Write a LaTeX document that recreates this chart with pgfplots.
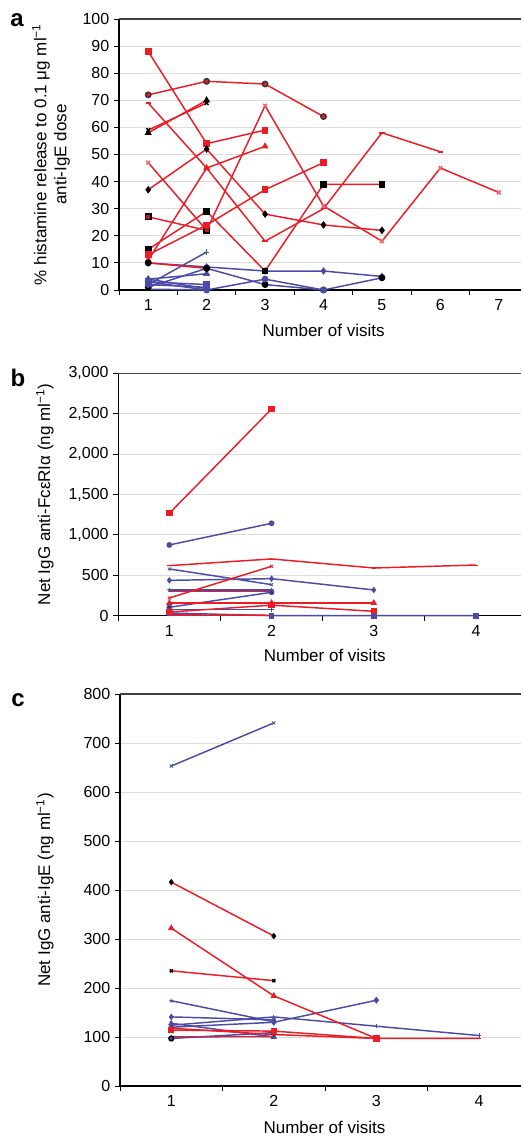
\documentclass[border=0pt]{standalone}
\usepackage{pgfplots}
\pgfplotsset{compat=1.18}
\usepackage{fontspec}
\setmainfont{Liberation Sans}
\definecolor{cred}{HTML}{EC1C24}
\definecolor{cblue}{HTML}{4B4BA6}
\definecolor{cgrid}{HTML}{DCDCDC}
\pgfplotsset{
  myaxis/.style={
    scale only axis, clip=false,
    axis x line*=bottom, axis y line*=left,
    axis line style={black, line width=0.9pt, -},
    tick align=outside,
    major tick length=3.75pt, minor tick length=3.75pt,
    tick style={black, line width=0.7pt},
    major x tick style={draw=none},
    ymajorgrids, major grid style={cgrid, line width=0.6pt},
    tick label style={font=\fontsize{12}{14}\selectfont},
    label style={font=\fontsize{12.75}{15}\selectfont},
    /pgf/number format/assume math mode=true,
    ylabel style={rotate=0, anchor=center, align=center},
    xlabel style={anchor=center},
  },
  rl/.style={cred, line width=1.1pt, mark size=2pt, mark options={solid, line width=0.6pt}},
  bl/.style={cblue, line width=1.1pt, mark size=2pt, mark options={solid, line width=0.6pt}},
}
\begin{document}
\begin{tikzpicture}
\path[use as bounding box] (0,0) rectangle (391.5pt,854.25pt);
\node[font=\fontsize{18}{18}\bfseries\selectfont] at (12.75pt,839.25pt) {a};
\node[font=\fontsize{18}{18}\bfseries\selectfont] at (13.5pt,570.75pt) {b};
\node[font=\fontsize{18}{18}\bfseries\selectfont] at (13.5pt,329.25pt) {c};
% ---------------- panel a
\begin{axis}[myaxis, at={(89.25pt,636.75pt)}, anchor=south west,
  width=301.5pt, height=203.25pt,
  xmin=0.5, xmax=7.38, ymin=0, ymax=100,
  ytick={0,10,...,100}, xtick={1,...,7}, minor xtick={0.5,1.5,...,6.5},
  xlabel={Number of visits},
  xlabel style={at={(axis description cs:0.509,-0.151)}},
  ylabel={\% histamine release to 0.1 μg ml\textsuperscript{−1}\\anti-IgE dose},
  ylabel style={at={(axis description cs:-0.169,0.5)}},
]
\draw[black!75, line width=1pt] (rel axis cs:0,1) -- (rel axis cs:1,1);
% blue
\addplot[bl, mark=diamond*, mark options={fill=cblue}] coordinates {(1,10)(2,8.5)(3,7)(4,7)(5,5)};
\addplot[bl, mark=+] coordinates {(1,2)(2,14)};
\addplot[bl, mark=triangle*, mark options={fill=cblue}] coordinates {(1,4)(2,6)};
\addplot[bl, mark=*, mark options={fill=black, draw=black}] coordinates {(1,1)(2,8)(3,2)(4,0)(5,4.5)};
\addplot[bl, mark=*, mark options={fill=cblue}] coordinates {(1,3)(2,0)(3,4)(4,0)};
\addplot[bl, mark=square*, mark options={fill=cblue}] coordinates {(1,3)(2,2)};
\addplot[bl, mark=*, mark options={fill=cblue}] coordinates {(1,2)(2,1)};
\addplot[bl, mark=none] coordinates {(1,0.3)(2,0)};
\addplot[bl, mark=diamond*, mark options={fill=cblue}] coordinates {(1,4)(2,0.5)};
% red
\addplot[rl, mark=*, mark options={fill=cred, draw=black!80}] coordinates {(1,72)(2,77)(3,76)(4,64)};
\addplot[rl, mark=square*, mark options={fill=cred}] coordinates {(1,88)(2,54)(3,59)};
\addplot[rl, mark=triangle*, mark options={fill=black, draw=black}] coordinates {(1,58)(2,70)};
\addplot[rl, mark=x, mark options={draw=black}] coordinates {(1,59)(2,69)};
\addplot[rl, mark=-, mark options={draw=cred}] coordinates {(1,69)(2,45)(3,18)(4,30)(5,58)(6,51)};
\addplot[rl, mark=x, mark options={draw=cred!70}] coordinates {(1,47)(2,22)(3,68)(4,31)(5,18)(6,45)(7,36)};
\addplot[rl, mark=diamond*, mark options={fill=black, draw=black}] coordinates {(1,37)(2,52)(3,28)(4,24)(5,22)};
\addplot[rl, mark=square*, mark options={fill=cred!80!black, draw=black}] coordinates {(1,27)(2,22)};
\addplot[rl, mark=square*, mark options={fill=black, draw=black}] coordinates {(1,15)(2,29)(3,7)(4,39)(5,39)};
\addplot[rl, mark=square*, mark options={fill=cred}] coordinates {(1,13)(2,24)(3,37)(4,47)};
\addplot[rl, mark=triangle*, mark options={fill=cred}] coordinates {(1,11)(2,45)(3,53)};
\addplot[rl, mark=*, mark options={fill=black, draw=black}] coordinates {(1,10)(2,8)};
\end{axis}
% ---------------- panel b
\begin{axis}[myaxis, at={(88.7pt,392.5pt)}, anchor=south west,
  width=302pt, height=181.8pt,
  xmin=0.5, xmax=4.44, ymin=0, ymax=3000,
  ytick={0,500,...,3000}, xtick={1,...,4}, minor xtick={0.5,1.5,2.5,3.5},
  yticklabel style={/pgf/number format/.cd, fixed, 1000 sep={,}},
  xlabel={Number of visits},
  xlabel style={at={(axis description cs:0.513,-0.165)}},
  ylabel={Net IgG anti-FcεRIα (ng ml\textsuperscript{−1})},
  ylabel style={at={(axis description cs:-0.182,0.5)}},
]
\draw[black!75, line width=1pt] (rel axis cs:0,1) -- (rel axis cs:1,1);
\addplot[bl, mark=*, mark size=1.6pt, mark options={fill=cblue}] coordinates {(1,875)(2,1143)};
\addplot[bl, mark=x, mark size=1.6pt] coordinates {(1,578)(2,384)};
\addplot[bl, mark=diamond*, mark size=1.6pt, mark options={fill=cblue}] coordinates {(1,437)(2,458)(3,318)};
\addplot[bl, mark=star, mark size=1.6pt] coordinates {(1,318)(2,318)};
\addplot[bl, mark=*, mark size=1.6pt, mark options={fill=cblue!60!black}] coordinates {(1,104)(2,289)};
\addplot[bl, mark=+, mark size=1.6pt] coordinates {(1,74)(2,74)};
\addplot[bl, mark=square*, mark size=1.6pt, mark options={fill=cblue}] coordinates {(1,33)(2,0)(3,0)(4,0)};
\addplot[bl, mark=none] coordinates {(1,0)(2,0)};
\addplot[rl, mark=square*, mark size=1.8pt, mark options={fill=cred}] coordinates {(1,1267)(2,2558)};
\addplot[rl, mark=-, mark size=1.6pt] coordinates {(1,619)(2,702)(3,590)(4,627)};
\addplot[rl, mark=x, mark size=1.6pt] coordinates {(1,219)(2,611)};
\addplot[rl, mark=none] coordinates {(1,302)(2,302)};
\addplot[rl, mark=triangle*, mark size=1.8pt, mark options={fill=cred}] coordinates {(1,157)(2,157)(3,157)};
\addplot[rl, mark=square*, mark size=1.8pt, mark options={fill=cred}] coordinates {(1,45)(2,130)(3,54)};
\addplot[rl, mark=none] coordinates {(1,10)(2,5)};
\end{axis}
% ---------------- panel c
\begin{axis}[myaxis, at={(90pt,39.75pt)}, anchor=south west,
  width=300.75pt, height=294pt,
  xmin=0.5, xmax=4.41, ymin=0, ymax=800,
  ytick={0,100,...,800}, xtick={1,...,4}, minor xtick={0.5,1.5,2.5,3.5},
  xlabel={Number of visits},
  xlabel style={at={(axis description cs:0.51,-0.105)}},
  ylabel={Net IgG anti-IgE (ng ml\textsuperscript{−1})},
  ylabel style={at={(axis description cs:-0.187,0.5)}},
]
\draw[black!75, line width=1pt] (rel axis cs:0,1) -- (rel axis cs:1,1);
\addplot[bl, mark=x, mark size=1.6pt] coordinates {(1,653)(2,741)};
\addplot[bl, mark=star, mark size=1.6pt] coordinates {(1,174)(2,131)};
\addplot[bl, mark=diamond*, mark size=1.6pt, mark options={fill=cblue}] coordinates {(1,141)(2,135)};
\addplot[bl, mark=diamond*, mark size=1.8pt, mark options={fill=cblue}] coordinates {(1,120)(2,130)(3,175)};
\addplot[bl, mark=+, mark size=1.6pt] coordinates {(1,124)(2,141)(3,122)(4,103)};
\addplot[bl, mark=triangle*, mark size=1.6pt, mark options={fill=cblue}] coordinates {(1,128)(2,100)};
\addplot[bl, mark=none] coordinates {(1,100)(2,101)};
\addplot[bl, mark=*, mark size=1.8pt, mark options={fill=cblue, draw=black}] coordinates {(1,97)(2,109)};
\addplot[rl, mark=diamond*, mark size=1.6pt, mark options={fill=black, draw=black}] coordinates {(1,416)(2,306)};
\addplot[rl, mark=triangle*, mark size=1.8pt, mark options={fill=cred}] coordinates {(1,322)(2,184)(3,97)};
\addplot[rl, mark=x, mark size=1.6pt, mark options={draw=black}] coordinates {(1,235)(2,215)};
\addplot[rl, mark=square*, mark size=1.8pt, mark options={fill=cred}] coordinates {(1,114)(2,112)(3,97)};
\addplot[rl, mark=-, mark size=1.6pt] coordinates {(1,118)(2,105)(3,97)(4,97)};
\addplot[rl, mark=none] coordinates {(1,101)(2,101)};
\end{axis}
\end{tikzpicture}
\end{document}
